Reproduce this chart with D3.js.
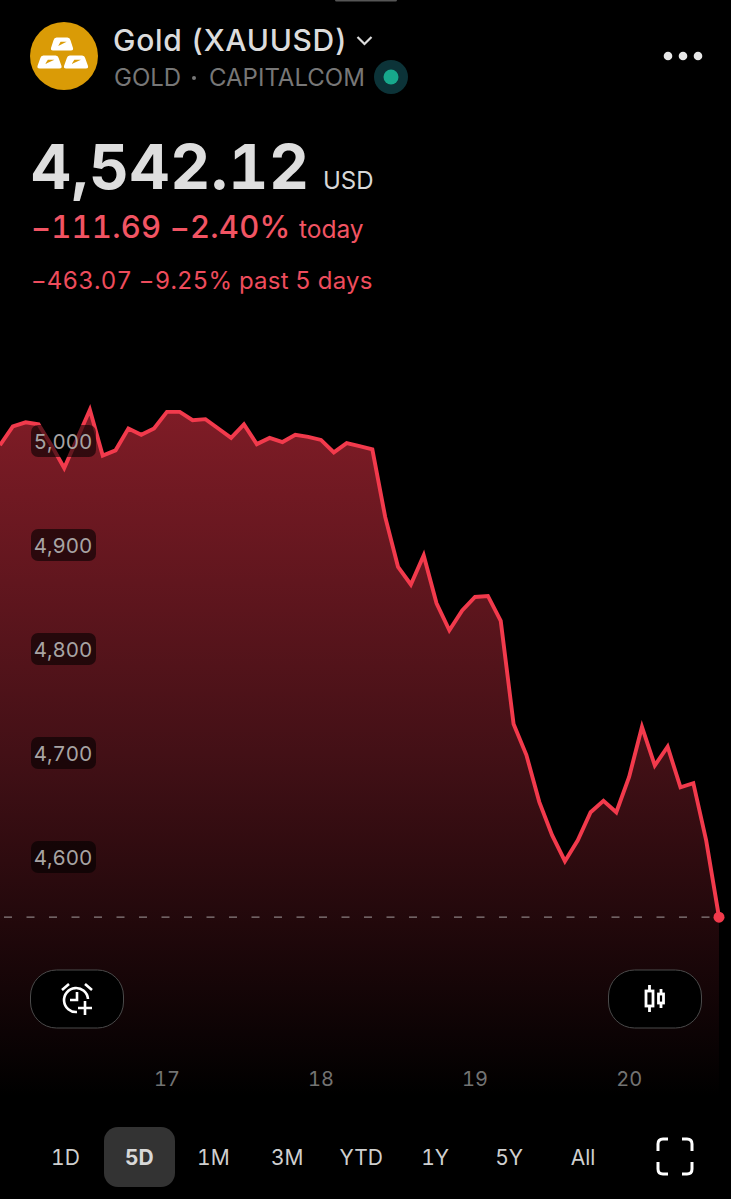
<!DOCTYPE html>
<html><head><meta charset="utf-8">
<script src="https://cdnjs.cloudflare.com/ajax/libs/d3/7.8.5/d3.min.js"></script>
<style>html,body{margin:0;padding:0;background:#000;overflow:hidden}svg{display:block}text{font-family:Inter,"Noto Sans",sans-serif;font-feature-settings:"tnum" 1}</style>
</head><body><svg id="c" width="731" height="1199"></svg>
<script>
const prices=[4996,5014,5018,5016,4996,4974,5002,5030,4986,4991,5012,5006,5012,5028,5028,5020,5021,5012,5003,5016,4997,5003,4999,5006,5004,5001,4989,4998,4995,4992,4927,4879,4862,4890,4844,4818,4837,4850,4851,4827,4728,4698,4653,4621,4596,4616,4643,4654,4643,4677,4725,4688,4706,4667,4671,4616,4542.12];
const yTicks=[5000,4900,4800,4700,4600];
const dayTickIndex=[13,25,37,49];
const dayTickLabels=["17","18","19","20"];
const ranges=["1D","5D","1M","3M","YTD","1Y","5Y","All"];
const activeRange="5D";
const lastPrice=4542.12;

const RED="#f23a4c";
const svg=d3.select("#c");
const x=d3.scaleLinear().domain([0,prices.length-1]).range([0,719]);
const y=d3.scaleLinear().domain([5000,4600]).range([441,857]);
const baseY=1096;

const defs=svg.append("defs");
const g=defs.append("linearGradient").attr("id","fade").attr("gradientUnits","userSpaceOnUse")
 .attr("x1",0).attr("x2",0).attr("y1",y(5030)).attr("y2",baseY);
g.append("stop").attr("offset",0).attr("stop-color","#7f1c26");
g.append("stop").attr("offset",0.5).attr("stop-color","#431016");
g.append("stop").attr("offset",1).attr("stop-color","#000");

const area=d3.area().x((d,i)=>x(i)).y0(baseY).y1(d=>y(d));
const line=d3.line().x((d,i)=>x(i)).y(d=>y(d));
svg.append("path").datum(prices).attr("d",area).attr("fill","url(#fade)");
svg.append("line").attr("x1",4).attr("x2",712).attr("y1",y(lastPrice)).attr("y2",y(lastPrice))
 .attr("stroke","#8a7f80").attr("stroke-width",1.3).attr("stroke-dasharray","8 14.5");
svg.append("path").datum(prices).attr("d",line).attr("fill","none").attr("stroke",RED)
 .attr("stroke-width",3.9).attr("stroke-linejoin","miter");
svg.append("circle").attr("cx",x(prices.length-1)).attr("cy",y(lastPrice)).attr("r",5.5).attr("fill",RED);

// y labels
const yg=svg.selectAll("g.yl").data(yTicks).join("g").attr("class","yl");
yg.append("rect").attr("x",31).attr("width",65).attr("y",d=>y(d)-16).attr("height",32).attr("rx",7)
 .attr("fill","#000").attr("fill-opacity",0.58);
yg.append("text").attr("x",63).attr("y",d=>y(d)+7.5).attr("text-anchor","middle").attr("font-size",20.5)
 .attr("fill","#a8a4a4").text(d=>d3.format(",")(d));

// x axis
const axis=d3.axisBottom(x).tickValues(dayTickIndex).tickFormat((d,i)=>dayTickLabels[i]).tickSize(0).tickPadding(0);
const ax=svg.append("g").attr("transform","translate(-0.5,1071)").call(axis);
ax.select(".domain").remove();
ax.selectAll("text").attr("font-size",20).attr("fill","#737373").attr("font-family","Inter").attr("y",1);

// header
const t=(s,px,py,size,fill,weight,anchor)=>svg.append("text").attr("x",px).attr("y",py).attr("font-size",size)
 .attr("fill",fill).attr("font-weight",weight||400).attr("text-anchor",anchor||"start").text(s);
svg.append("rect").attr("x",335).attr("y",-2).attr("width",62).attr("height",3.5).attr("rx",1.5).attr("fill","#555");
svg.append("circle").attr("cx",64).attr("cy",56).attr("r",34).attr("fill","#da9b06");
const bar=(cx,cy,w,h)=>{
 svg.append("path").attr("d",`M${cx-w/2+2},${cy+h/2} h${w-4} q2.5,0 2,-2.5 l-${w*0.13},-${h-5} q-.5,-2.5 -3,-2.5 h-${w*0.74-4} q-2.5,0 -3,2.5 l-${w*0.13},${h-5} q-.5,2.5 2,2.5 z`)
  .attr("fill","#fff");
 svg.append("path").attr("d",`M${cx-w*0.24},${cy+h*0.16} l${w*0.42},-${h*0.34} l-${w*0.3},0 z`).attr("fill","#da9b06");
};
bar(63,44,20,13);bar(50.5,62,22,13);bar(77,62,22,13);
t("Gold (XAUUSD)",113,51,30,"#dcdcdc",500).attr("letter-spacing",0.7);
svg.append("path").attr("d","M357.5,37 l7,7 l7,-7").attr("fill","none").attr("stroke","#dcdcdc").attr("stroke-width",2.2);
t("GOLD",114,86,24,"#777");
svg.append("circle").attr("cx",194).attr("cy",78).attr("r",2).attr("fill","#777");
t("CAPITALCOM",209,86,24,"#777");
svg.append("circle").attr("cx",391).attr("cy",77).attr("r",17).attr("fill","#0c3338");
svg.append("circle").attr("cx",391).attr("cy",77).attr("r",7.5).attr("fill","#17a88c");
[668,683,698].forEach(c=>svg.append("circle").attr("cx",c).attr("cy",56).attr("r",4.3).attr("fill","#e8e8e8"));
t("4,542.12",31,189,62,"#dedede",700).attr("letter-spacing",0.6);
t("USD",323,189,24,"#d8d8d8");
t("−111.69 −2.40%",31,238,31,"#f25463",500).attr("letter-spacing",0.2);
t("today",299,238,24.5,"#f25463");
t("−463.07 −9.25% past 5 days",31,289,24,"#ee4c5c").attr("letter-spacing",0.2);

// buttons
const squircle=(px,w)=>svg.append("rect").attr("x",px).attr("y",970).attr("width",w).attr("height",58).attr("rx",26)
 .attr("fill","#000").attr("stroke","#4a4a4a").attr("stroke-width",1);
squircle(30.5,93);squircle(608.5,93);
const ic=svg.append("g").attr("fill","none").attr("stroke","#fff").attr("stroke-width",2.6);
ic.append("path").attr("d","M88,999 A12,12 0 1 0 77,1012");
ic.append("path").attr("d","M77,992 v8 h-7");
ic.append("path").attr("d","M62,990 l7,-6 M92,990 l-7,-6");
ic.append("path").attr("d","M85,1001 v14 M78,1008 h14");
const cd=svg.append("g").attr("fill","none").attr("stroke","#fff").attr("stroke-width",2.8);
cd.append("rect").attr("x",646).attr("y",991).attr("width",7).attr("height",15);
cd.append("path").attr("d","M649.5,985 v6 M649.5,1006 v6");
cd.append("rect").attr("x",658.5).attr("y",994).attr("width",5).attr("height",9);
cd.append("path").attr("d","M661,989 v5 M661,1003 v5");

// range tabs
const tabX=d3.scalePoint().domain(ranges).range([65.5,583]);
svg.append("rect").attr("x",104).attr("y",1127).attr("width",71).attr("height",60).attr("rx",14).attr("fill","#333");
svg.selectAll("text.tab").data(ranges).join("text").attr("class","tab").attr("x",d=>tabX(d)).attr("y",1165)
 .attr("text-anchor","middle").attr("font-size",21).attr("font-weight",d=>d===activeRange?700:400)
 .attr("fill",d=>d===activeRange?"#d8d8d8":"#cfcfcf").text(d=>d);
svg.append("path").attr("d","M668,1139 h-5 q-5,0 -5,5 v7 M682,1139 h5 q5,0 5,5 v7 M668,1174 h-5 q-5,0 -5,-5 v-7 M682,1174 h5 q5,0 5,-5 v-7")
 .attr("fill","none").attr("stroke","#fff").attr("stroke-width",3);
</script></body></html>
